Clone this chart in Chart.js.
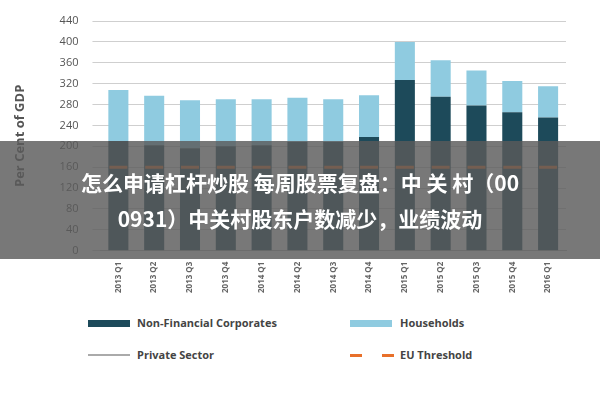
<!DOCTYPE html>
<html><head><meta charset="utf-8">
<script src="https://cdn.jsdelivr.net/npm/chart.js@4"></script>
<style>
body{margin:0;width:600px;height:400px;background:#fff;position:relative;overflow:hidden;font-family:"Open Sans",sans-serif}
#wrap{position:absolute;left:0;top:0;width:600px;height:296px}
#banner{position:absolute;left:0;top:141px;width:600px;height:118px;background:rgba(90,90,90,0.82);color:#fff;font:bold 21px "Noto Sans CJK SC";text-align:center;line-height:36px;padding-top:23px;box-sizing:border-box}
.lg{position:absolute;font:bold 11px "Open Sans";color:#444}
.sw{position:absolute}
</style></head><body>
<div id="wrap"><canvas id="c" width="600" height="296"></canvas></div>
<div id="banner">怎么申请杠杆炒股 每周股票复盘：中 关 村（00<br>0931）中关村股东户数减少，业绩波动</div>
<div class="sw" style="left:88px;top:320px;width:42px;height:7px;background:#1d4a5a"></div>
<div class="lg" style="left:137px;top:315px">Non-Financial Corporates</div>
<div class="sw" style="left:350px;top:320px;width:42px;height:7px;background:#8fcbe0"></div>
<div class="lg" style="left:400px;top:315px">Households</div>
<div class="sw" style="left:88px;top:354px;width:42px;height:2px;background:#aaa"></div>
<div class="lg" style="left:137px;top:347px">Private Sector</div>
<div class="sw" style="left:350px;top:354px;width:12px;height:3px;background:#e8702a"></div>
<div class="sw" style="left:382px;top:354px;width:12px;height:3px;background:#e8702a"></div>
<div class="lg" style="left:400px;top:347px">EU Threshold</div>
<script>
const categories=["2013 Q1","2013 Q2","2013 Q3","2013 Q4","2014 Q1","2014 Q2","2014 Q3","2014 Q4","2015 Q1","2015 Q2","2015 Q3","2015 Q4","2016 Q1"];
const nonFinancial=[210,202,196,200,202,208,208,218,327,295,278,265,255];
const households=[98,95,92,90,88,85,82,80,73,70,67,60,60];
const privateSector=[308,297,288,290,290,293,290,298,400,365,345,325,315];
const euThreshold=[160,160,160,160,160,160,160,160,160,160,160,160,160];
const yTicks=[0,40,80,120,160,200,240,280,320,360,400,440];
new Chart(document.getElementById('c'),{
 data:{labels:categories,datasets:[
  {type:'line',data:euThreshold,borderColor:'#e8702a',borderWidth:3,showLine:false,pointStyle:'line',pointRadius:9,pointBorderWidth:3,order:0},
  {type:'line',data:privateSector,borderColor:'#aaaaaa',borderWidth:2,pointRadius:0,tension:0,order:1},
  {type:'bar',data:nonFinancial,backgroundColor:'#1d4a5a',stack:'s',barPercentage:0.56,categoryPercentage:1,order:2},
  {type:'bar',data:households,backgroundColor:'#8fcbe0',stack:'s',barPercentage:0.56,categoryPercentage:1,order:2}
 ]},
 options:{responsive:false,animation:false,
  layout:{padding:{left:8,right:34,top:21,bottom:0}},
  plugins:{legend:{display:false},tooltip:{enabled:false}},
  scales:{
   x:{stacked:true,grid:{display:false},border:{color:'#bbb'},ticks:{maxRotation:90,minRotation:90,autoSkip:false,font:{size:8,weight:'bold',family:'Open Sans'},color:'#666'}},
   y:{stacked:true,min:0,max:440,afterBuildTicks:a=>{a.ticks=yTicks.map(v=>({value:v}))},
      grid:{color:'#cfcfcf'},border:{display:false},
      ticks:{font:{size:11,family:'Open Sans'},color:'#555',padding:14},
      title:{display:true,text:'Per Cent of GDP',font:{size:13,weight:'bold',family:'Open Sans'},color:'#555',padding:{bottom:18}}}
  }}
});
</script></body></html>
